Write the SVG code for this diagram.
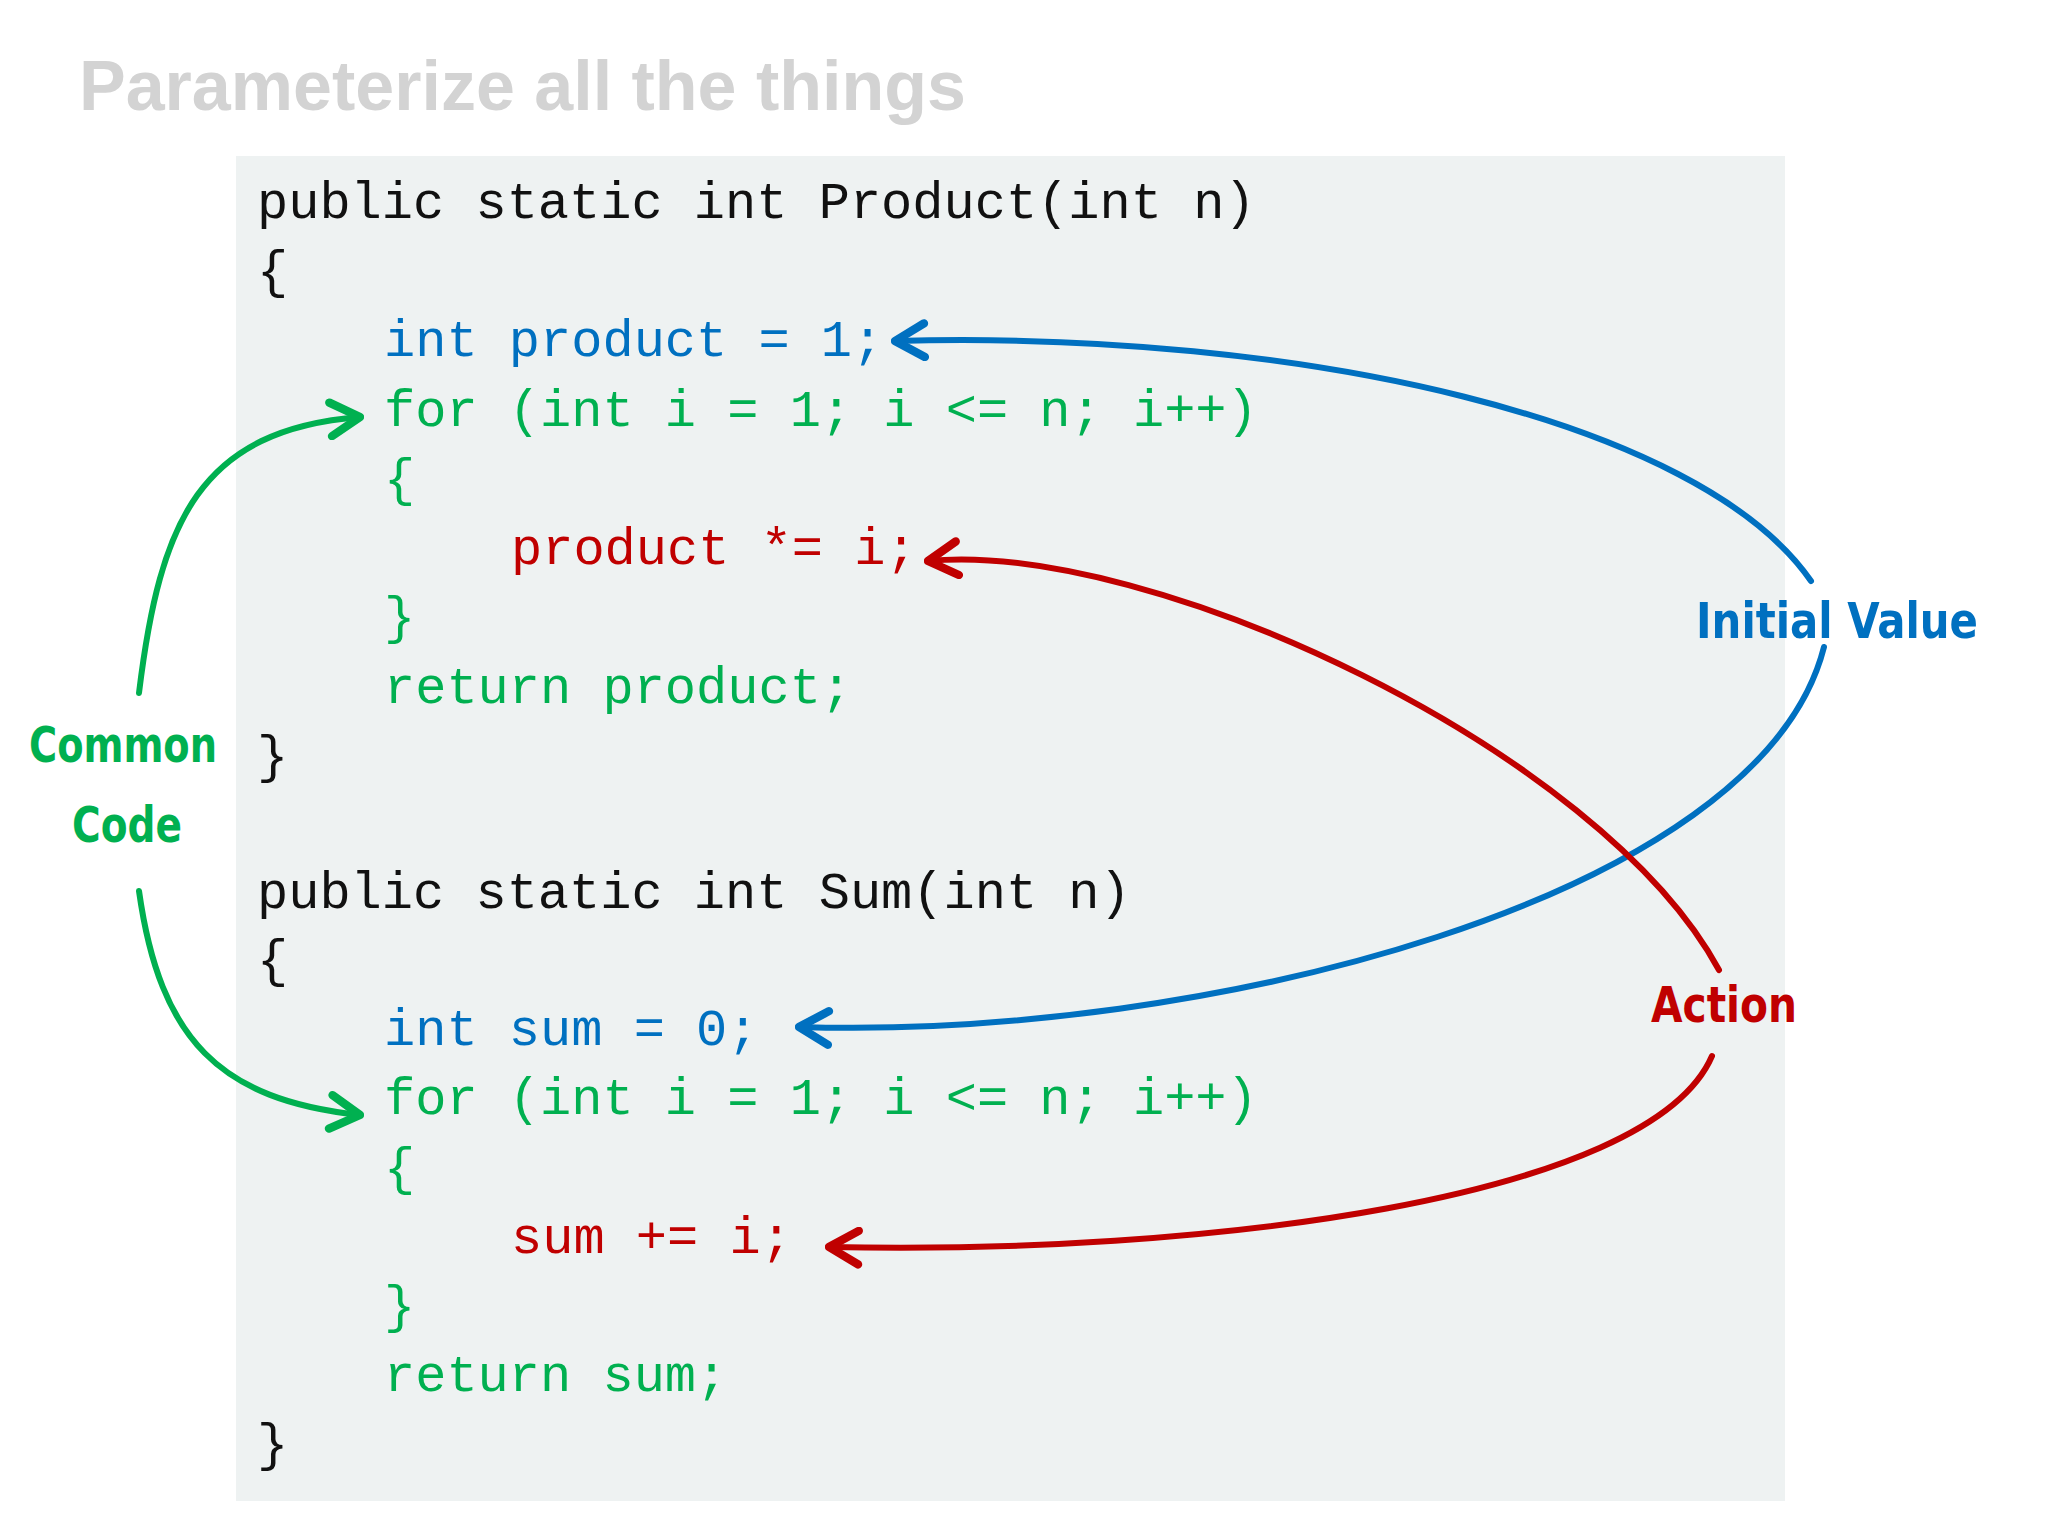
<svg xmlns="http://www.w3.org/2000/svg" width="2048" height="1536" viewBox="0 0 2048 1536">
<style>
.code{font-family:"Liberation Mono","DejaVu Sans Mono",monospace;font-size:52px}
.k{fill:#111}.b{fill:#0070c0}.g{fill:#00b050}.r{fill:#c00000}
.hand{font-family:"DejaVu Sans Condensed","Liberation Sans Narrow",sans-serif;font-size:50px;font-weight:bold}
.c{fill:none;stroke-width:6;stroke-linecap:round}
</style>
<defs>
<marker id="mb" viewBox="0 0 20 20" refX="18" refY="10" markerWidth="7" markerHeight="7" orient="auto" markerUnits="strokeWidth"><path d="M4,2 L18,10 L4,18" fill="none" stroke="#0070c0" stroke-width="4" stroke-linecap="round" stroke-linejoin="round"/></marker>
<marker id="mr" viewBox="0 0 20 20" refX="18" refY="10" markerWidth="7" markerHeight="7" orient="auto" markerUnits="strokeWidth"><path d="M4,2 L18,10 L4,18" fill="none" stroke="#c00000" stroke-width="4" stroke-linecap="round" stroke-linejoin="round"/></marker>
<marker id="mg" viewBox="0 0 20 20" refX="18" refY="10" markerWidth="7" markerHeight="7" orient="auto" markerUnits="strokeWidth"><path d="M4,2 L18,10 L4,18" fill="none" stroke="#00b050" stroke-width="4" stroke-linecap="round" stroke-linejoin="round"/></marker>
</defs>
<rect width="2048" height="1536" fill="#fff"/>
<text x="79" y="110" font-family="Liberation Sans,Arial,sans-serif" font-size="70" font-weight="bold" fill="#d3d3d3">Parameterize all the things</text>
<rect id="codebox" x="236" y="156" width="1549" height="1345" fill="#eef2f2"/>
<g id="code" class="code" xml:space="preserve">
<text x="257" y="218" class="k">public static int Product(int n)</text>
<text x="257" y="287" class="k">{</text>
<text x="384" y="356" class="b">int product = 1;</text>
<text x="384" y="426" class="g">for (int i = 1; i &lt;= n; i++)</text>
<text x="384" y="495" class="g">{</text>
<text x="511" y="564" class="r">product *= i;</text>
<text x="384" y="633" class="g">}</text>
<text x="384" y="703" class="g">return product;</text>
<text x="257" y="772" class="k">}</text>
<text x="257" y="908" class="k">public static int Sum(int n)</text>
<text x="257" y="976" class="k">{</text>
<text x="384" y="1045" class="b">int sum = 0;</text>
<text x="384" y="1114" class="g">for (int i = 1; i &lt;= n; i++)</text>
<text x="384" y="1184" class="g">{</text>
<text x="511" y="1253" class="r">sum += i;</text>
<text x="384" y="1322" class="g">}</text>
<text x="384" y="1391" class="g">return sum;</text>
<text x="257" y="1460" class="k">}</text>
</g>
<g id="connectors">
<path class="c" stroke="#0070c0" marker-end="url(#mb)" d="M1811,581 C1700,420 1300,330 895,341"/>
<path class="c" stroke="#0070c0" marker-end="url(#mb)" d="M1824,647 C1760,900 1200,1040 799,1027"/>
<path class="c" stroke="#c00000" marker-end="url(#mr)" d="M1719,970 C1600,750 1150,540 928,561"/>
<path class="c" stroke="#c00000" marker-end="url(#mr)" d="M1712,1056 C1650,1200 1200,1255 829,1247"/>
<path class="c" stroke="#00b050" marker-end="url(#mg)" d="M139,693 C160,520 200,430 360,417"/>
<path class="c" stroke="#00b050" marker-end="url(#mg)" d="M139,891 C160,1040 220,1100 360,1115"/>
</g>
<g id="label-initial"><text x="1696" y="638" class="hand b" textLength="282" lengthAdjust="spacingAndGlyphs">Initial Value</text></g>
<g id="label-action"><text x="1651" y="1022" class="hand r" textLength="146" lengthAdjust="spacingAndGlyphs">Action</text></g>
<g id="label-common"><text x="29" y="762" class="hand g" textLength="188" lengthAdjust="spacingAndGlyphs">Common</text><text x="72" y="842" class="hand g" textLength="110" lengthAdjust="spacingAndGlyphs">Code</text></g>
</svg>
